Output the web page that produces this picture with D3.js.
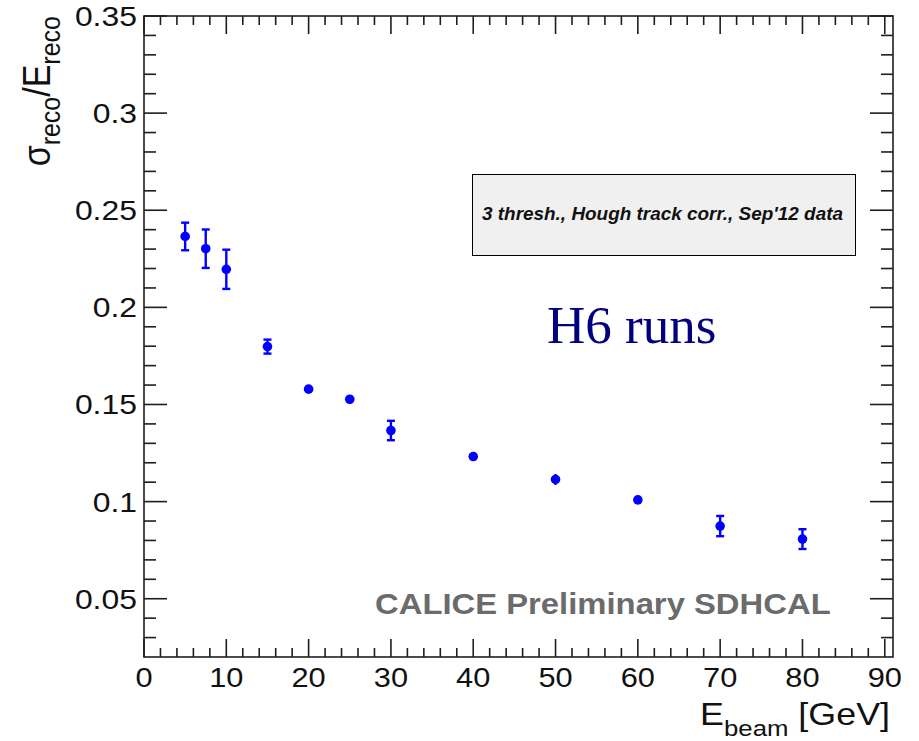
<!DOCTYPE html>
<html><head><meta charset="utf-8">
<script src="https://cdn.jsdelivr.net/npm/d3@7"></script>
<style>body{margin:0;background:#fff}svg{display:block}text{font-family:"Liberation Sans",Arial,sans-serif}</style>
</head><body>
<script>
// Data
const beamEnergy = [5, 7.5, 10, 15, 20, 25, 30, 40, 50, 60, 70, 80];
const resolution = [0.2365, 0.2302, 0.2196, 0.1798, 0.1579, 0.1527, 0.1366, 0.1232, 0.1114, 0.1009, 0.0874, 0.0807];
const resError   = [0.0071, 0.0099, 0.0101, 0.0036, 0.0012, 0.0010, 0.0050, 0.0010, 0.0028, 0.0008, 0.0052, 0.0051];
const xMajorTicks = [0, 10, 20, 30, 40, 50, 60, 70, 80, 90];
const yMajorTicks = [0.05, 0.1, 0.15, 0.2, 0.25, 0.3, 0.35];
const yTickLabels = ["0.05", "0.1", "0.15", "0.2", "0.25", "0.3", "0.35"];
const boxText = "3 thresh., Hough track corr., Sep'12 data";
const runsText = "H6 runs";
const prelimText = "CALICE Preliminary SDHCAL";

const W = 919, H = 741;
const L = 144, R = 893, T = 16, B = 657;
const SX = 1.12; // horizontal stretch of the original raster

const svg = d3.select("body").append("svg").attr("width", W).attr("height", H);
const x = d3.scaleLinear().domain([0, 91]).range([L, R]);
const y = d3.scaleLinear().domain([0.02, 0.35]).range([B, T]);

const axisCol = "#1e1e1e";
const xMinor = d3.range(0, 91, 2).filter(v => v % 10 !== 0);
const yMinor = d3.range(3, 35).map(v => v / 100).filter(v => Math.round(v * 100) % 5 !== 0);

const g = svg.append("g").attr("stroke", axisCol).attr("stroke-width", 1.6).attr("fill", "none");
function tick(x1, y1, x2, y2) { g.append("line").attr("x1", x1).attr("y1", y1).attr("x2", x2).attr("y2", y2); }
xMajorTicks.forEach(v => { tick(x(v), B, x(v), B - 18); tick(x(v), T, x(v), T + 18); });
xMinor.forEach(v => { tick(x(v), B, x(v), B - 9); tick(x(v), T, x(v), T + 9); });
yMajorTicks.forEach(v => { tick(L, y(v), L + 23, y(v)); tick(R, y(v), R - 23, y(v)); });
yMinor.forEach(v => { tick(L, y(v), L + 12, y(v)); tick(R, y(v), R - 12, y(v)); });
g.append("rect").attr("x", L).attr("y", T).attr("width", R - L).attr("height", B - T);

function stext(px, py, str, size, anchor, opts = {}) {
  const t = svg.append("text")
    .attr("transform", `translate(${px},${py}) scale(${opts.sx ?? SX},1)` + (opts.rot ? ` rotate(${opts.rot})` : ""))
    .attr("font-size", size).attr("text-anchor", anchor)
    .attr("fill", opts.fill ?? "#111");
  if (opts.weight) t.attr("font-weight", opts.weight);
  if (opts.style) t.attr("font-style", opts.style);
  if (str !== null) t.text(str);
  return t;
}
xMajorTicks.forEach(v => stext(x(v), 687, String(v), 27.5, "middle"));
yMajorTicks.forEach((v, i) => stext(137, y(v) + 10, yTickLabels[i], 28.5, "end"));

// axis titles
const xt = stext(890, 725, null, 32, "end");
xt.append("tspan").text("E");
xt.append("tspan").attr("font-size", 23).attr("dy", 11).text("beam");
xt.append("tspan").attr("dy", -11).text(" [GeV]");

const yt = stext(50, 16, null, 34, "end", { rot: -90 });
yt.append("tspan").text("σ");
yt.append("tspan").attr("font-size", 25).attr("dy", 9).text("reco");
yt.append("tspan").attr("dy", -9).text("/E");
yt.append("tspan").attr("font-size", 25).attr("dy", 9).text("reco");

// data: error bars + markers
const col = "#0000ff";
const eg = svg.append("g").attr("stroke", col).attr("stroke-width", 2.4);
beamEnergy.forEach((e, i) => {
  const cx = x(e), y0 = y(resolution[i] - resError[i]), y1 = y(resolution[i] + resError[i]);
  eg.append("line").attr("x1", cx).attr("x2", cx).attr("y1", y0).attr("y2", y1);
  if (y0 - y1 > 13) {
    eg.append("line").attr("x1", cx - 4).attr("x2", cx + 4).attr("y1", y0).attr("y2", y0);
    eg.append("line").attr("x1", cx - 4).attr("x2", cx + 4).attr("y1", y1).attr("y2", y1);
  }
});
svg.append("g").selectAll("circle").data(beamEnergy).join("circle")
  .attr("cx", d => x(d)).attr("cy", (d, i) => y(resolution[i])).attr("r", 4.8).attr("fill", col);

// info box
svg.append("rect").attr("x", 472.5).attr("y", 174.5).attr("width", 383).attr("height", 81)
  .attr("fill", "#f0f0f0").attr("stroke", "#000").attr("stroke-width", 1);
svg.append("text").attr("x", 482).attr("y", 220).attr("font-size", 17.5)
  .attr("font-weight", "bold").attr("font-style", "italic").attr("fill", "#111")
  .attr("textLength", 361).attr("lengthAdjust", "spacingAndGlyphs").text(boxText);

// H6 runs
svg.append("text").attr("x", 547).attr("y", 343).attr("font-size", 53)
  .style("font-family", "'Liberation Serif','Times New Roman',serif").attr("fill", "#000080").text(runsText);

// CALICE Preliminary
stext(375, 614, prelimText, 29.3, "start", { weight: "bold", fill: "#6b6b6b" });
</script>
</body></html>
